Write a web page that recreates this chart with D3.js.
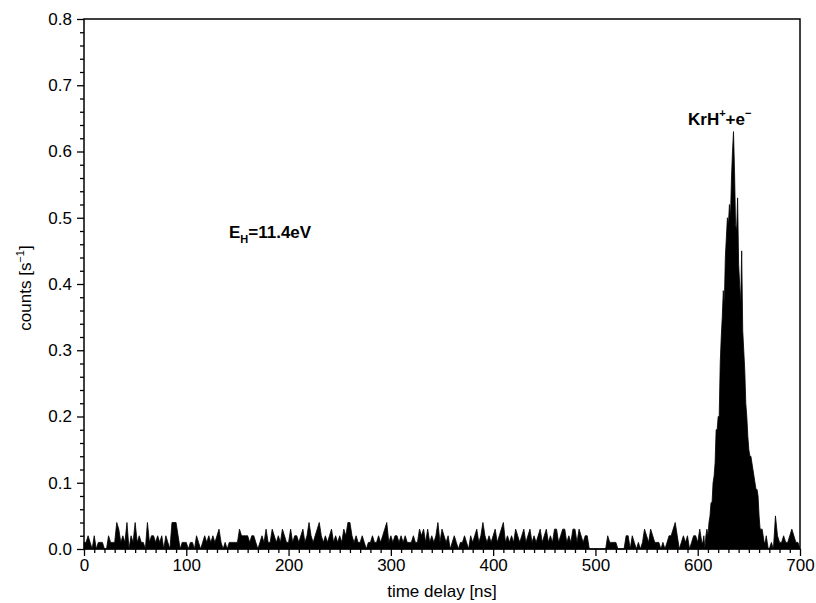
<!DOCTYPE html>
<html><head><meta charset="utf-8">
<script src="https://cdn.jsdelivr.net/npm/d3@7"></script>
<style>
body{margin:0;background:#fff;}
text{font-family:"Liberation Sans",Arial,sans-serif;fill:#000;}
</style></head>
<body><svg id="c" width="816" height="603"></svg>
<script>
// noise, 2 ns bins, t = 0 .. 604
const noiseStart = 0, noiseStep = 2;
const noiseValues = [
.01,.01,.02,.01,0, .02,0,.01,.01,.01, 0,0,.02,.01,.01, .01,.04,.03,.01,.02,
.01,.04,0,.02,.01, .04,.01,.02,.01,.01, 0,.04,.01,.02,.02, .01,.02,.01,.02,0,
.02,.01,0,.04,.04, .04,.02,0,.01,.01, .01,0,.01,.01,0, .02,.01,0,.01,.02,
.01,.02,.01,.02,.01, .02,.03,.01,0,.01, 0,.01,.01,.01,.01, .01,.03,.02,.02,.02,
.02,.01,.02,.02,.01, 0,.01,.02,.01,.03, .01,.01,.03,.02,.01, .02,.01,.03,.02,.01,
.01,.03,.01,.02,.02, .01,.02,.03,.01,.02, .04,.02,.01,.02,.03, .04,.02,.01,.02,.01,
.02,.03,.01,.02,.01, .02,.01,.03,.02,.04, .04,.02,.01,.02,.01, .01,.02,.01,0,.01,
.01,.02,.01,.01,.02, .01,.02,.03,.04,.01, .02,.01,.02,.02,.01, .02,.01,.02,.01,.01,
.01,.02,.01,.01,.03, .02,.03,.01,.03,.01, .02,.01,.02,.04,.01, .03,.02,.01,.02,0,
.01,.02,.01,0,.01, .01,.02,.01,0,.02, .01,.02,.03,.01,.02, .04,.02,.01,.02,.01,
.02,.03,.01,.02,.03, .04,.01,.02,.01,.02, .01,.03,.02,.01,.02, .03,.01,.02,.03,.01,
.02,.01,.02,.03,.01, .02,.03,.01,.02,.01, .03,.03,.01,.02,.03, .03,.01,.02,.01,.03,
.03,.01,.03,.02,.01, .02,.02,0,0,0, 0,0,0,0,0, 0,.02,.01,.01,.01,
.01,0,0,0,0, .02,.02,0,.02,.01, 0,.01,0,.01,.03, .02,.01,.03,.02,.01,
.01,.01,0,.01,0, .01,.02,.02,.03,.04, .02,0,.01,.02,.01, .02,0,.01,.02,.02,
.01,.03,.01
];
// main peak, 1 ns bins, t = 605 .. 669
const peakStart = 605, peakStep = 1;
const peakValues = [
.01,.02,0,.02,.03,.02,.04,.05,.07,.07,
.10,.11,.13,.18,.18,.20,.20,.28,.32,.35,
.39,.37,.44,.47,.50,.49,.52,.50,.56,.60,
.63,.57,.49,.48,.53,.43,.40,.37,.45,.33,
.30,.27,.22,.20,.17,.15,.14,.14,.13,.12,
.11,.10,.09,.09,.08,.05,.03,.03,.03,.02,
.01,.01,.02,.01,0
];
// tail, 2 ns bins, t = 670 .. 700
const tailStart = 670, tailStep = 2;
const tailValues = [0,.01,0,.05,.02,.01,.01,.02,.01,.01,.02,.03,.02,.01,.01,0];

const xMajorTicks = [0,100,200,300,400,500,600,700];
const yMajorTicks = [0,0.1,0.2,0.3,0.4,0.5,0.6,0.7,0.8];

const segments = [
  {start:noiseStart, step:noiseStep, values:noiseValues},
  {start:peakStart, step:peakStep, values:peakValues},
  {start:tailStart, step:tailStep, values:tailValues}
];
const pts = [];
segments.forEach(s => s.values.forEach((v,i) => pts.push({t:s.start + i*s.step, v:v})));

const svg = d3.select("#c");
const L=84,R=800,T=19,B=549;
const x = d3.scaleLinear().domain([0,700]).range([L,R]);
const y = d3.scaleLinear().domain([0,0.8]).range([B,T]);

const area = d3.area().x(d=>x(d.t)).y0(y(0)).y1(d=>y(d.v));
svg.append("path").datum(pts).attr("d",area)
  .attr("fill","#000").attr("stroke","#000").attr("stroke-width",0.8).attr("stroke-linejoin","miter");

// frame
svg.append("rect").attr("x",L).attr("y",T).attr("width",R-L).attr("height",B-T)
  .attr("fill","none").attr("stroke","#000").attr("stroke-width",1.5);

// x axis
const xMinor = d3.range(0,701,10).filter(v=>v%100!==0);
const gxm = svg.append("g").attr("transform",`translate(0,${B})`)
  .call(d3.axisBottom(x).tickValues(xMinor).tickSize(4).tickFormat(""));
const gx = svg.append("g").attr("transform",`translate(0,${B})`)
  .call(d3.axisBottom(x).tickValues(xMajorTicks).tickSize(7).tickPadding(3).tickFormat(d3.format("d")));
// y axis
const yMinor = d3.range(0,41).map(i=>i*0.02).filter((v,i)=>i%5!==0);
const gym = svg.append("g").attr("transform",`translate(${L},0)`)
  .call(d3.axisLeft(y).tickValues(yMinor).tickSize(4).tickFormat(""));
const gy = svg.append("g").attr("transform",`translate(${L},0)`)
  .call(d3.axisLeft(y).tickValues(yMajorTicks).tickSize(7).tickPadding(5).tickFormat(d3.format(".1f")));
[gxm,gx,gym,gy].forEach(g=>{
  g.select(".domain").remove();
  g.selectAll("line").attr("stroke","#000").attr("stroke-width",1.3);
  g.selectAll("text").attr("font-size",17).attr("font-family","Liberation Sans, Arial, sans-serif").attr("fill","#000");
});

// axis titles
svg.append("text").attr("x",(L+R)/2).attr("y",597).attr("text-anchor","middle")
  .attr("font-size",17).text("time delay [ns]");
const yt = svg.append("text").attr("transform","translate(31,288) rotate(-90)")
  .attr("text-anchor","middle").attr("font-size",17);
yt.append("tspan").text("counts [s");
yt.append("tspan").attr("dy",-7).attr("font-size",11).text("\u22121");
yt.append("tspan").attr("dy",7).text("]");

// annotations
const a1 = svg.append("text").attr("x",688).attr("y",125).attr("font-size",17).attr("font-weight","bold");
a1.append("tspan").text("KrH");
a1.append("tspan").attr("dy",-8).attr("font-size",11).text("+");
a1.append("tspan").attr("dy",8).text("+e");
a1.append("tspan").attr("dy",-8).attr("font-size",11).text("\u2212");

const a2 = svg.append("text").attr("x",229).attr("y",238).attr("font-size",17).attr("font-weight","bold");
a2.append("tspan").text("E");
a2.append("tspan").attr("dy",5).attr("font-size",11).text("H");
a2.append("tspan").attr("dy",-5).text("=11.4eV");
</script></body></html>
